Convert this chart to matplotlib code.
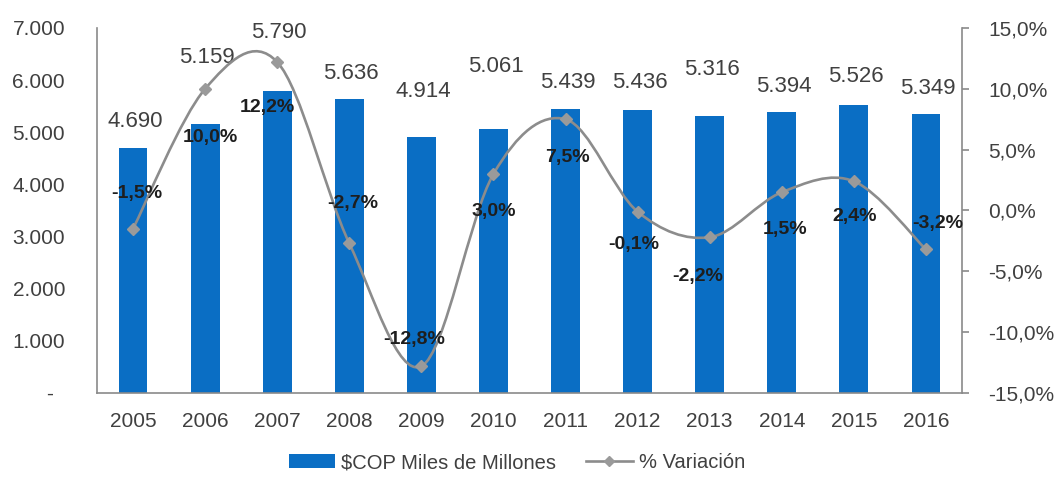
import matplotlib
matplotlib.use("Agg")
import matplotlib.pyplot as plt
from matplotlib import font_manager
from matplotlib.path import Path
from matplotlib.patches import PathPatch, Patch
from matplotlib.lines import Line2D
from matplotlib.ticker import FuncFormatter, MultipleLocator

plt.rcParams['font.family'] = ['Liberation Sans', 'DejaVu Sans']

years = ['2005', '2006', '2007', '2008', '2009', '2010',
         '2011', '2012', '2013', '2014', '2015', '2016']
cop = [4690, 5159, 5790, 5636, 4914, 5061, 5439, 5436, 5316, 5394, 5526, 5349]
variacion = [-1.5, 10.0, 12.2, -2.7, -12.8, 3.0, 7.5, -0.1, -2.2, 1.5, 2.4, -3.2]

# label offsets in pixels (dx, dy), hand placed like the original
cop_lbl_off = [27, 66, 59, 26, 45, 63, 27, 27, 46, 25, 28, 26]
var_lbl_off = [(4, 35), (5, -49), (-10, -45), (3, 40), (-7, 27), (0, -38),
               (2, -38), (-4, -33), (-12, -39), (3, -37), (1, -35), (12, 26)]

BLUE = '#0A6EC4'
GREY = '#8C8C8C'
AXGREY = '#8A8A8A'
TXT = '#404040'

names = {f.name for f in font_manager.fontManager.ttflist}
if 'Liberation Sans Narrow' in names:
    pct_family, pct_size = ['Liberation Sans Narrow', 'DejaVu Sans'], 15.5
else:
    pct_family, pct_size = ['Liberation Sans', 'DejaVu Sans'], 14

fig = plt.figure(figsize=(10.59, 4.91), dpi=100)
ax = fig.add_axes([0.0916, 0.1996, 0.8168, 0.7434])
ax2 = ax.twinx()

x = list(range(len(years)))
ax.bar(x, cop, width=0.4, color=BLUE, zorder=2)
ax.set_xlim(-0.5, len(years) - 0.5)
ax.set_ylim(0, 7000)
ax.yaxis.set_major_locator(MultipleLocator(1000))
ax.yaxis.set_major_formatter(FuncFormatter(
    lambda v, p: '-  ' if v == 0 else f'{int(v):,}'.replace(',', '.')))
ax.set_xticks(x)
ax.set_xticklabels(years)
ax.tick_params(axis='x', length=0, pad=14, labelsize=15, labelcolor=TXT)
ax.tick_params(axis='y', length=0, pad=23, labelsize=15, labelcolor=TXT)

for s in ['top', 'right']:
    ax.spines[s].set_visible(False)
for s in ['left', 'bottom']:
    ax.spines[s].set_color(AXGREY)
    ax.spines[s].set_linewidth(1.2)

for i, v in enumerate(cop):
    ax.annotate(f'{v:,}'.replace(',', '.'), (i, v), xytext=(2, cop_lbl_off[i]),
                textcoords='offset pixels', ha='center', va='center',
                fontsize=16, color=TXT, zorder=5)

# right axis: smoothed line (Bezier through the points)
ax2.set_ylim(-15, 15)
ax2.yaxis.set_major_locator(MultipleLocator(5))
ax2.yaxis.set_major_formatter(FuncFormatter(
    lambda v, p: f'{v:.1f}%'.replace('.', ',')))
ax2.tick_params(axis='y', length=5, width=1.2, color=AXGREY, pad=14,
                labelsize=15, labelcolor=TXT)
for s in ['top', 'left', 'bottom']:
    ax2.spines[s].set_visible(False)
ax2.spines['right'].set_color(AXGREY)
ax2.spines['right'].set_linewidth(1.2)

n = len(variacion)
verts = [(x[0], variacion[0])]
codes = [Path.MOVETO]
for i in range(n - 1):
    p0 = (x[max(i - 1, 0)], variacion[max(i - 1, 0)])
    p1 = (x[i], variacion[i])
    p2 = (x[i + 1], variacion[i + 1])
    p3 = (x[min(i + 2, n - 1)], variacion[min(i + 2, n - 1)])
    c1 = (p1[0] + (p2[0] - p0[0]) / 6, p1[1] + (p2[1] - p0[1]) / 6)
    c2 = (p2[0] - (p3[0] - p1[0]) / 6, p2[1] - (p3[1] - p1[1]) / 6)
    verts += [c1, c2, p2]
    codes += [Path.CURVE4] * 3
ax2.add_patch(PathPatch(Path(verts, codes), facecolor='none', edgecolor=GREY,
                        linewidth=1.9, zorder=3))
ax2.plot(x, variacion, linestyle='none', marker='D', markersize=6.5,
         color='#9A9A9A', zorder=4)

for i, v in enumerate(variacion):
    dx, dy = var_lbl_off[i]
    ax2.annotate(f'{v:.1f}%'.replace('.', ','), (i, v), xytext=(dx, dy),
                 textcoords='offset pixels', ha='center', va='center',
                 fontsize=pct_size, fontweight='bold', family=pct_family,
                 color='#1E1E1E', zorder=6)

handles = [Patch(facecolor=BLUE, edgecolor='none'),
           Line2D([], [], color=GREY, linewidth=1.9, marker='D',
                  markersize=5, markerfacecolor='#9A9A9A', markeredgecolor='#9A9A9A')]
fig.legend(handles, ['$COP Miles de Millones', '% Variación'],
           loc='center', bbox_to_anchor=(0.488, 0.058), ncol=2, frameon=False,
           fontsize=14.5, handlelength=2.3, handletextpad=0.3,
           columnspacing=1.5, labelcolor=TXT)

fig.savefig('out.png', dpi=100, facecolor='white')
